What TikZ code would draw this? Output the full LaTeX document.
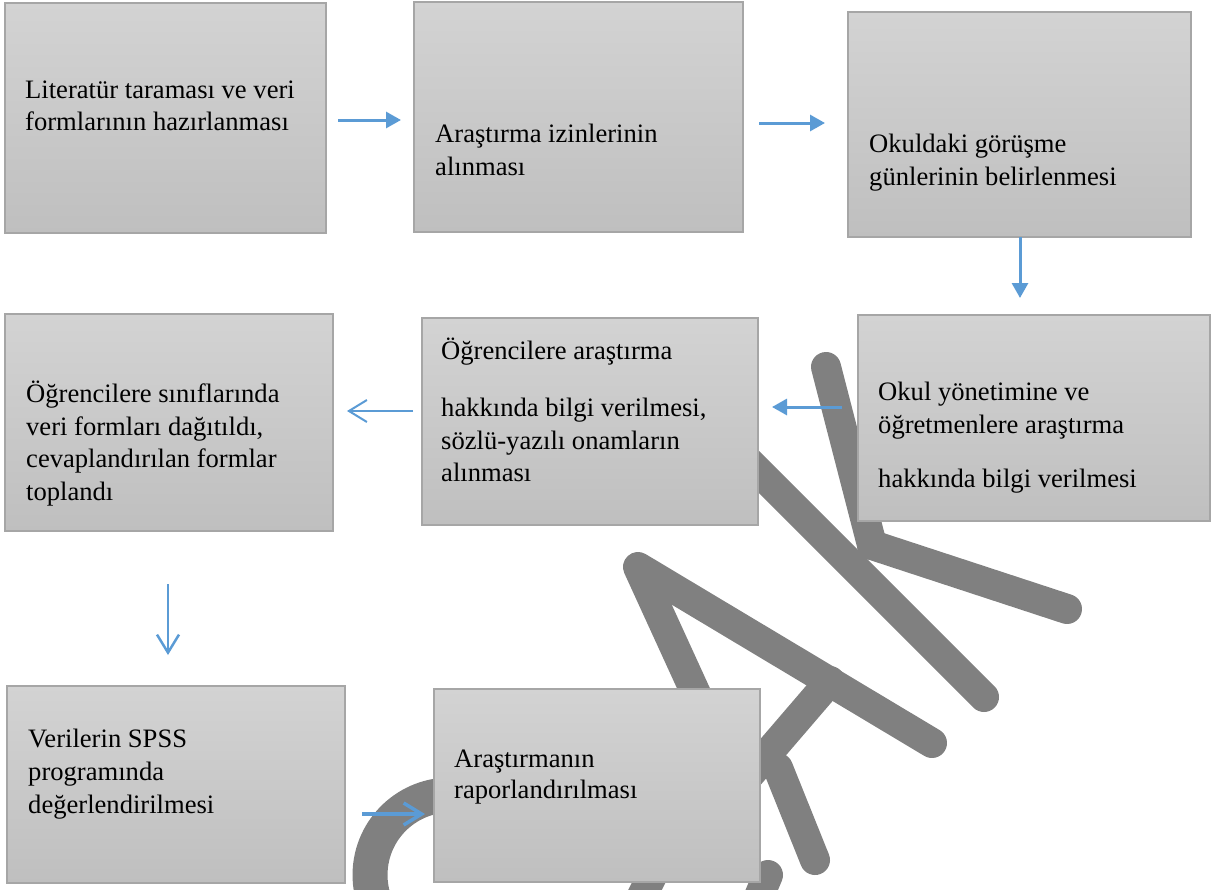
\documentclass[tikz,border=0pt]{standalone}
\usepackage{fontspec}
\setmainfont{Liberation Serif}
\usetikzlibrary{arrows.meta,calc}
\definecolor{boxtop}{HTML}{D3D3D3}
\definecolor{boxbot}{HTML}{BFBFBF}
\definecolor{boxline}{HTML}{A6A6A6}
\definecolor{arrblue}{HTML}{5B9BD5}
\definecolor{wm}{HTML}{808080}
\begin{document}
\begin{tikzpicture}[x=1pt,y=-1pt,
  box/.style={draw=boxline, line width=1.5pt, top color=boxtop, bottom color=boxbot,
    anchor=north west, inner sep=0pt, outer sep=0pt},
  txt/.style={anchor=base west, inner sep=0pt, font=\fontsize{26.6}{32}\selectfont},
  farrow/.style={draw=arrblue, line width=3pt, -{Triangle[length=15pt,width=16pt]}},
  oarrow/.style={draw=arrblue, line width=2.5pt, -{Straight Barb[length=18pt,width=22pt]}},
  wmark/.style={draw=wm, line width=30pt, line cap=round, line join=round}]
\useasboundingbox (0,0) rectangle (1215,889);
% watermark
\begin{scope}
\clip (0,0) rectangle (1215,889);
\draw[wmark] (826,367) -- (872,545);
\draw[wmark] (872,545) -- (1067,609);
\draw[wmark] (680,393) -- (984,697);
\draw[wmark] (740,790) -- (638,567) -- (932,743);
\draw[wmark] (830,681) -- (745,780);
\draw[wmark] (778,768) -- (815,860);
\draw[wmark] (768,875) -- (745,930);
\draw[wmark] (660,860) -- (630,920);
\draw[draw=wm, line width=35pt] (463.9,796.2) arc[start angle=-80, end angle=-200, radius=80];
\end{scope}
% boxes
\node[box, minimum width=321pt, minimum height=230pt] (b1) at (5,3) {};
\node[box, minimum width=329pt, minimum height=230pt] (b2) at (414,2) {};
\node[box, minimum width=343pt, minimum height=225pt] (b3) at (848,12) {};
\node[box, minimum width=352pt, minimum height=206pt] (b4) at (858,315) {};
\node[box, minimum width=336pt, minimum height=207pt] (b5) at (422,318) {};
\node[box, minimum width=328pt, minimum height=217pt] (b6) at (5,314) {};
\node[box, minimum width=338pt, minimum height=197pt] (b7) at (7,686) {};
\node[box, minimum width=326pt, minimum height=193pt] (b8) at (434,689) {};
% arrows
\draw[farrow, shorten <=12pt, shorten >=13pt] (b1.east |- 0,120) -- (b2.west |- 0,120);
\draw[farrow, shorten <=16pt, shorten >=23pt] (b2.east |- 0,123) -- (b3.west |- 0,123);
\draw[farrow, shorten >=17pt] (b3.south -| 1020,0) -- (b4.north -| 1020,0);
\draw[farrow, shorten <=16pt, shorten >=14pt] (b4.west |- 0,407) -- (b5.east |- 0,407);
\draw[oarrow, line width=2pt, shorten <=9pt, shorten >=14pt] (b5.west |- 0,411) -- (b6.east |- 0,411);
\draw[oarrow, shorten <=53pt, shorten >=31pt] (b6.south -| 168,0) -- (b7.north -| 168,0);
\draw[oarrow, line width=3.5pt, shorten <=17pt, shorten >=9pt] (b7.east |- 0,814) -- (b8.west |- 0,814);
% texts
\node[txt] (t1a) at (25,98) {Literatür taraması ve veri};
\node[txt] (t1b) at (25,130) {formlarının hazırlanması};
\node[txt] (t2a) at (435,142) {Araştırma izinlerinin};
\node[txt] (t2b) at (435,175) {alınması};
\node[txt] (t3a) at (869,152) {Okuldaki görüşme};
\node[txt] (t3b) at (869,185) {günlerinin belirlenmesi};
\node[txt] (t4a) at (878,400) {Okul yönetimine ve};
\node[txt] (t4b) at (878,433) {öğretmenlere araştırma};
\node[txt] (t4c) at (878,487) {hakkında bilgi verilmesi};
\node[txt] (t5a) at (441,359) {Öğrencilere araştırma};
\node[txt] (t5b) at (441,416) {hakkında bilgi verilmesi,};
\node[txt] (t5c) at (441,449) {sözlü-yazılı onamların};
\node[txt] (t5d) at (441,481) {alınması};
\node[txt] (t6a) at (26,402) {Öğrencilere sınıflarında};
\node[txt] (t6b) at (26,435) {veri formları dağıtıldı,};
\node[txt] (t6c) at (26,467) {cevaplandırılan formlar};
\node[txt] (t6d) at (26,500) {toplandı};
\node[txt] (t7a) at (28,747) {Verilerin SPSS};
\node[txt] (t7b) at (28,780) {programında};
\node[txt] (t7c) at (28,813) {değerlendirilmesi};
\node[txt] (t8a) at (454,767) {Araştırmanın};
\node[txt] (t8b) at (454,798) {raporlandırılması};
\end{tikzpicture}
\end{document}
